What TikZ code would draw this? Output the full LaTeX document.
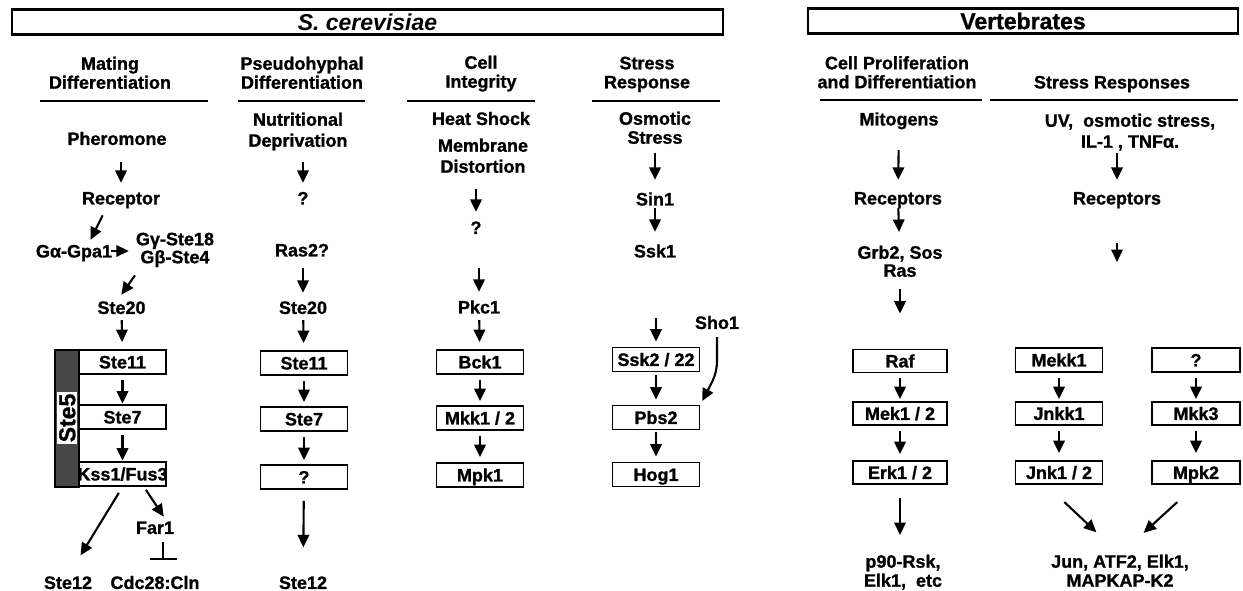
\documentclass[tikz,border=0pt]{standalone}
\usepackage{fontspec}
\setmainfont{Liberation Sans}[BoldFeatures={FakeBold=1}]
\usetikzlibrary{arrows.meta,positioning}
\newcommand\lblfont{\fontsize{18}{19}\selectfont\bfseries}
\newcommand\lblfontw{\fontsize{18}{21}\selectfont\bfseries}
\newcommand\lblfontn{\fontsize{18}{18}\selectfont\bfseries}
\newcommand\titlefont{\fontsize{23}{25}\selectfont\bfseries}
\newcommand\scaffont{\fontsize{23}{25}\selectfont\bfseries}

\begin{document}
\begin{tikzpicture}[x=1pt, y=-1pt,
  lbl/.style={font=\lblfont, inner sep=0pt, text height=12.9pt, text depth=0pt},
  lbltwo/.style={font=\lblfont, inner sep=0pt, align=center, anchor=north},
  kinase/.style={draw, line width=1.8pt, minimum width=87pt, minimum height=24pt, inner sep=0pt, font=\lblfont, text height=12.9pt, text depth=0pt},
  vkinase/.style={kinase, minimum height=23pt},
  banner/.style={draw, line width=2.2pt, minimum height=25pt, inner sep=0pt, font=\titlefont},
  arr/.style={-{Triangle[length=12.5pt,width=11.5pt]}, line width=2.1pt},
  rule/.style={line width=2pt}]
\path[use as bounding box, fill=white] (0,0) rectangle (1243,591);

% banners
\node[banner, minimum width=711pt, font=\titlefont\itshape] (yeast) at (367.5,22) {S. cerevisiae};
\node[banner, minimum width=430pt] (vert) at (1023,21) {Vertebrates};

% column headers
\node[lbltwo] (hmat) at (110,56.5) {Mating\\Differentiation};
\node[lbltwo] (hpse) at (302,56.5) {Pseudohyphal\\Differentiation};
\node[lbltwo] (hcel) at (481,55.5) {Cell\\Integrity};
\node[lbltwo] (hstr) at (647,56.5) {Stress\\Response};
\node[lbltwo] (hpro) at (897,56) {Cell Proliferation\\and Differentiation};
\node[lbl] (hvst) at (1112,82) {Stress Responses};
\draw[rule] (40,101) -- (208,101);
\draw[rule] (238,101) -- (365,101);
\draw[rule] (407,101) -- (535,101);
\draw[rule] (592,101) -- (720,101);
\draw[rule] (820,100) -- (982,100);
\draw[rule] (990,100) -- (1238,100);

% mating
\node[lbl] (phero) at (117,138.5) {Pheromone};
\node[lbl] (rcpt) at (121,198) {Receptor};
\node[lbl] (gpa) at (74,251) {Gα-Gpa1};
\node[lbltwo, font=\lblfontn] (gbg) at (175,232.5) {Gγ-Ste18\\Gβ-Ste4};
\node[lbl] (mste20) at (121.5,307.5) {Ste20};
\node[draw, line width=1.2pt, fill=black!72, minimum width=24pt, minimum height=137pt, inner sep=0pt] (ste5) at (67,418.5) {};
\node[fill=white, rotate=90, font=\scaffont, inner sep=1.5pt, text height=16.5pt, text depth=0pt] (ste5lbl) at (67,418) {Ste5};
\node[kinase] (mste11) at (122.5,362) {Ste11};
\node[kinase] (mste7) at (122.5,417) {Ste7};
\node[kinase] (kss) at (122.5,474) {\makebox[0pt]{Kss1/Fus3}};
\node[lbl] (far) at (155,527.5) {Far1};
\node[lbl] (mste12) at (68,582.5) {Ste12};
\node[lbl] (cdc) at (155,582.5) {Cdc28:Cln};
\draw[arr, shorten <=16.5pt, shorten >=8.5pt] (rcpt |- phero.south) -- (rcpt.north);
\draw[arr, shorten <=12pt, shorten >=5pt] (rcpt.207) -- (gpa.25);
\draw[arr, shorten <=-1pt, shorten >=7pt] (gpa.east) -- (gpa.east -| gbg.west);
\draw[arr, shorten <=10pt, shorten >=7.5pt] ([xshift=5pt]gbg.south west) -- ([xshift=-4.5pt]mste20.north);
\draw[arr, shorten <=6pt, shorten >=7pt] (mste20) -- (mste11);
\draw[arr, shorten <=5pt, shorten >=0.5pt] (mste11) -- (mste7);
\draw[arr, shorten <=5pt, shorten >=0.5pt] (mste7) -- (kss);
\draw[arr, shorten <=7pt, shorten >=24pt] (kss.south) -- (mste12.north);
\draw[arr, shorten <=3.5pt, shorten >=5pt] (kss.-31) -- (far.30);
\draw[line width=2.1pt, -{Bar[width=27pt]}, shorten <=8pt, shorten >=15.5pt] ([xshift=8pt]far.south) -- ([xshift=8pt]cdc.north);

% pseudohyphal
\node[lbltwo, font=\lblfontw] (nutr) at (298,112.5) {Nutritional\\Deprivation};
\node[lbl] (pq) at (303,198) {?};
\node[lbl] (ras) at (302,250) {Ras2?};
\node[lbl] (pste20) at (303,307.5) {Ste20};
\node[kinase] (pste11) at (304,363) {Ste11};
\node[kinase] (pste7) at (304,419) {Ste7};
\node[kinase] (pqbox) at (304,477) {?};
\node[lbl] (pste12) at (303,582.5) {Ste12};
\draw[arr, shorten <=11.7pt, shorten >=8.5pt] (pq |- nutr.south) -- (pq.north);
\draw[arr, shorten <=11.5pt, shorten >=8pt] (pste20 |- ras.south) -- (pste20.north);
\draw[arr, shorten <=6pt, shorten >=7pt] (pste20) -- (pste11);
\draw[arr, shorten <=5pt, shorten >=4pt] (pste11) -- (pste7);
\draw[arr, shorten <=5pt, shorten >=4pt] (pste7) -- (pqbox);
\draw[arr, shorten <=11pt, shorten >=28.5pt] (pqbox) -- (pste12);

% cell integrity
\node[lbl] (heat) at (481,118.5) {Heat Shock};
\node[lbltwo, font=\lblfontw] (memb) at (483,138.5) {Membrane\\Distortion};
\node[lbl] (cq) at (476,227.5) {?};
\node[lbl] (pkc) at (479,307) {Pkc1};
\node[kinase] (bck) at (480,362) {Bck1};
\node[kinase] (mkk) at (480,418) {Mkk1 / 2};
\node[kinase] (mpk) at (480,475) {Mpk1};
\draw[arr, shorten <=15.4pt, shorten >=9pt] (cq |- memb.south) -- (cq.north);
\draw[arr, shorten <=34pt, shorten >=8.5pt] (pkc |- cq.south) -- (pkc.north);
\draw[arr, shorten <=6.5pt, shorten >=7pt] (pkc) -- (bck);
\draw[arr, shorten <=5pt, shorten >=4pt] (bck) -- (mkk);
\draw[arr, shorten <=5pt, shorten >=5pt] (mkk) -- (mpk);

% stress response
\node[lbltwo] (osmo) at (655,111.5) {Osmotic\\Stress};
\node[lbl] (sin) at (655,199) {Sin1};
\node[lbl] (ssk1) at (655,251) {Ssk1};
\node[kinase] (ssk2) at (656,359.5) {Ssk2 / 22};
\node[kinase] (pbs) at (656,417.5) {Pbs2};
\node[kinase] (hog) at (656,474.5) {Hog1};
\node[lbl] (sho) at (717,322.5) {Sho1};
\draw[arr, shorten <=8.5pt, shorten >=12.5pt] (sin |- osmo.south) -- (sin.north);
\draw[arr, shorten <=2.5pt, shorten >=12.5pt] (sin) -- (ssk1);
\draw[arr, shorten <=60.5pt, shorten >=5pt] (ssk2 |- ssk1.south) -- (ssk2.north);
\draw[arr, shorten <=3pt, shorten >=5pt] (ssk2) -- (pbs);
\draw[arr, shorten <=2pt, shorten >=5pt] (pbs) -- (hog);
\draw[arr, rounded corners=10pt, shorten <=8pt, shorten >=4pt] (sho.south) -- (sho.south |- ssk2.south) -- (pbs.north east);

% vertebrates: proliferation
\node[lbl] (mito) at (899,119) {Mitogens};
\node[lbl] (vrec) at (898,198) {Receptors};
\node[lbltwo, font=\lblfontn] (grb) at (900,245.5) {Grb2, Sos\\Ras};
\node[vkinase, minimum width=94pt] (raf) at (900,361) {Raf};
\node[vkinase, minimum width=94pt] (mek) at (900,413.5) {Mek1 / 2};
\node[vkinase, minimum width=94pt] (erk) at (900,472.5) {Erk1 / 2};
\node[lbltwo] (p90) at (903,554.5) {p90-Rsk,\\Elk1, \ etc};
\draw[arr, shorten <=24.5pt, shorten >=11.5pt] (mito) -- (vrec);
\draw[arr, shorten <=3.5pt, shorten >=13.5pt] (vrec) -- (grb);
\draw[arr, shorten <=11.4pt, shorten >=35pt] (grb) -- (raf);
\draw[arr, shorten <=5pt, shorten >=2pt] (raf) -- (mek);
\draw[arr, shorten <=5.5pt, shorten >=6pt] (mek) -- (erk);
\draw[arr, shorten <=13pt, shorten >=19.5pt] (erk) -- (erk |- p90.north);

% vertebrates: stress
\node[lbltwo, font=\lblfontw] (uv) at (1130,113.5) {UV, \ osmotic stress,\\IL-1 , TNFα.};
\node[lbl] (vrec2) at (1117,198) {Receptors};
\coordinate (vrec2end) at (1117,262);
\node[vkinase, minimum height=24pt] (mekk) at (1059,360) {Mekk1};
\node[vkinase] (jnkk) at (1059,413.5) {Jnkk1};
\node[vkinase] (jnk) at (1059,472.5) {Jnk1 / 2};
\node[vkinase, minimum height=24pt, minimum width=88pt] (vq) at (1196,360) {?};
\node[vkinase, minimum width=88pt] (mkk3) at (1196,413.5) {Mkk3};
\node[vkinase, minimum width=88pt] (mpk2) at (1196,472.5) {Mpk2};
\node[lbltwo] (jun) at (1120,554.5) {Jun, ATF2, Elk1,\\MAPKAP-K2};
\draw[arr, shorten <=2pt, shorten >=11.5pt] (vrec2 |- uv.south) -- (vrec2.north);
\draw[arr, shorten <=38.5pt] (vrec2) -- (vrec2end);
\draw[arr, shorten <=5pt, shorten >=2pt] (mekk) -- (jnkk);
\draw[arr, shorten <=5pt, shorten >=7pt] (jnkk) -- (jnk);
\draw[arr, shorten <=5pt, shorten >=2pt] (vq) -- (mkk3);
\draw[arr, shorten <=5pt, shorten >=7pt] (mkk3) -- (mpk2);
\draw[arr, shorten <=25pt, shorten >=32.5pt] (jnk.224) -- (jun.north);
\draw[arr, shorten <=25.5pt, shorten >=32pt] (mpk2.south) -- (jun.north);
\end{tikzpicture}
\end{document}
